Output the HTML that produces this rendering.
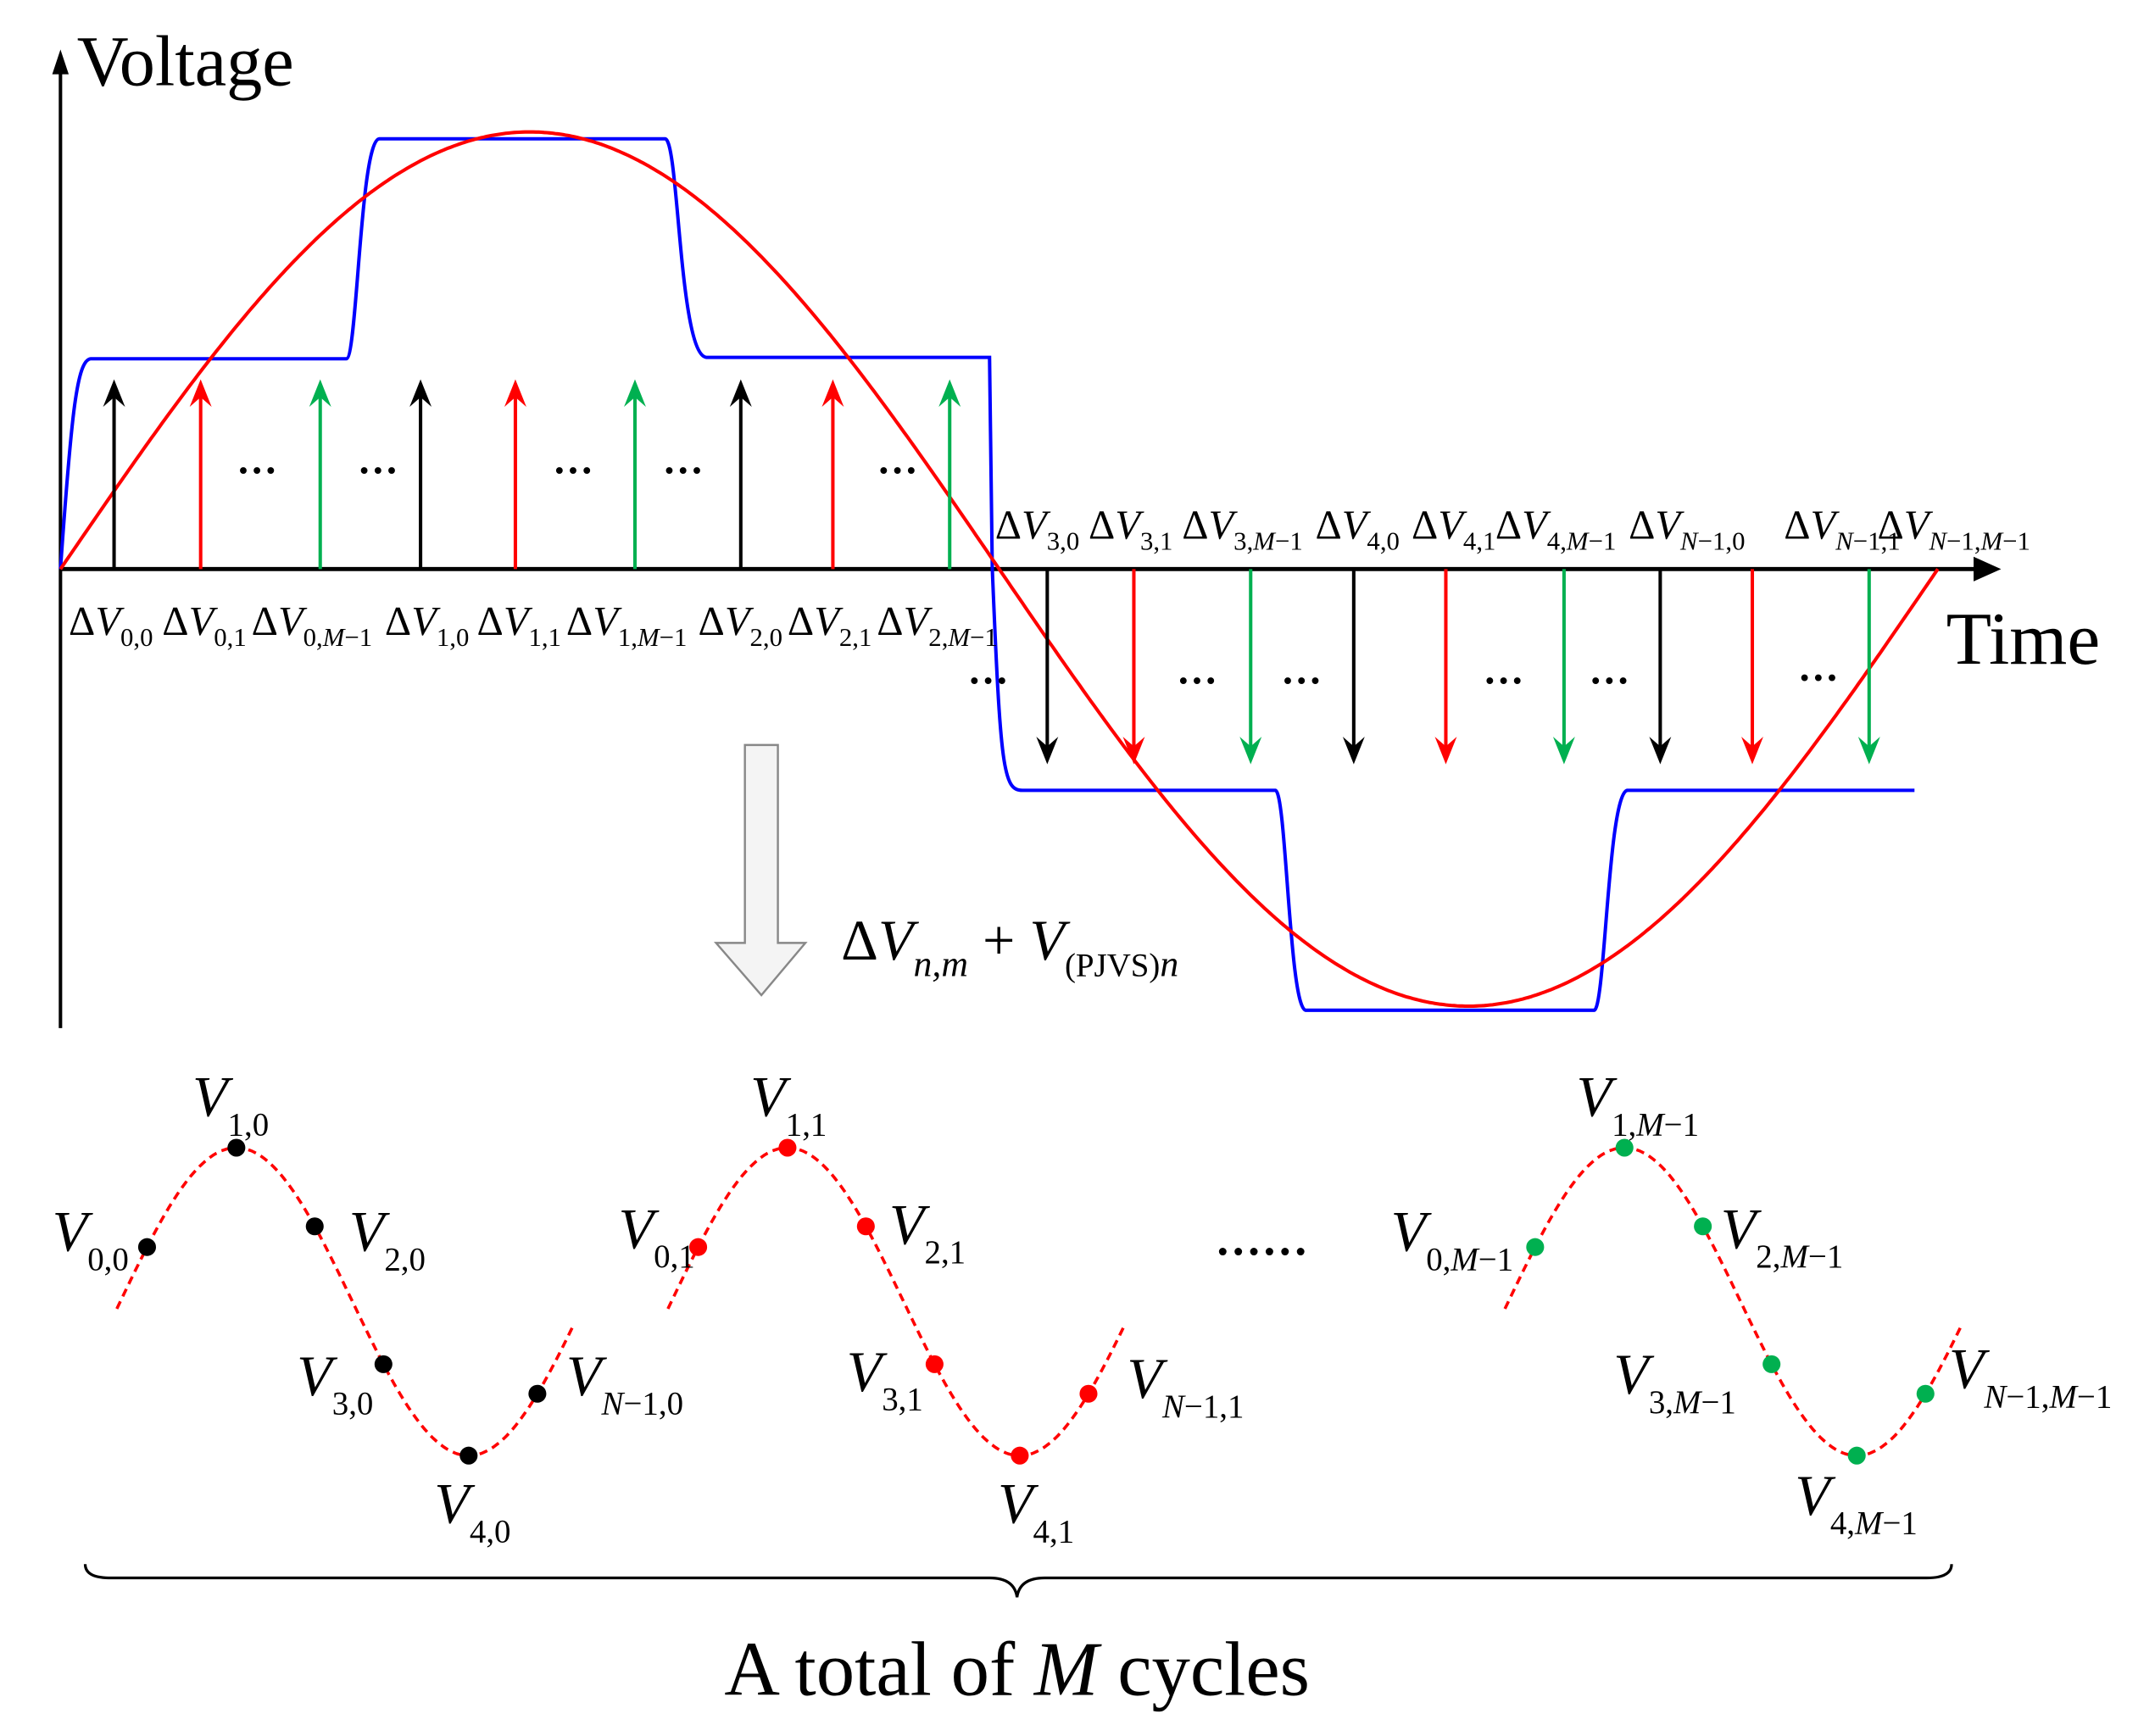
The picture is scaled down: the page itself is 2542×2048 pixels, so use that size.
<!DOCTYPE html>
<html><head><meta charset="utf-8"><style>
html,body{margin:0;padding:0;background:#fff;}
svg{display:block;}
text{font-family:"Liberation Serif",serif;}
.it{font-style:italic;}
</style></head><body>
<svg id="s" width="2542" height="2048" viewBox="0 0 1568 1263" preserveAspectRatio="none" xmlns="http://www.w3.org/2000/svg">
<rect width="1568" height="1263" fill="#fff"/>
<line x1="44" y1="748" x2="44" y2="50" stroke="#000" stroke-width="2.5"/>
<path d="M38,54 L44,36 L50,54 Z" fill="#000"/>
<text x="56" y="62" font-size="52">Voltage</text>
<line x1="44" y1="414" x2="1440" y2="414" stroke="#000" stroke-width="3"/>
<path d="M1436,405 L1456,414 L1436,423 Z" fill="#000"/>
<text x="1416" y="483" font-size="54">Time</text>
<g id="curves"></g>
<g id="arrows"></g>
<g font-size="30" font-weight="bold">
<text x="172" y="352">···</text><text x="260" y="352">···</text><text x="402" y="352">···</text><text x="482" y="352">···</text><text x="638" y="352">···</text>
<text x="704" y="505">···</text><text x="856" y="505">···</text><text x="932" y="505">···</text><text x="1079" y="505">···</text><text x="1156" y="505">···</text><text x="1308" y="503">···</text>
</g>
<g font-size="30" id="lbl"></g>
<path d="M542,542 L566,542 L566,686 L586,686 L554,724 L521,686 L542,686 Z" fill="#f4f4f4" stroke="#888" stroke-width="1.5"/>
<text x="612" y="698" font-size="42">Δ<tspan class="it">V</tspan><tspan class="it" font-size="27" dy="12">n,m</tspan><tspan dy="-12"> + </tspan><tspan class="it">V</tspan><tspan font-size="24" dy="12">(PJVS)</tspan><tspan class="it" font-size="27">n</tspan></text>
<g id="bottom"></g>
<text x="918" y="922" font-size="34" font-weight="bold" text-anchor="middle">······</text>
<path d="M62,1138 Q62,1148 80,1148 L720,1148 Q738,1148 740,1162 Q742,1148 760,1148 L1402,1148 Q1420,1148 1420,1138" fill="none" stroke="#000" stroke-width="2"/>
<text x="740" y="1233" font-size="56" text-anchor="middle">A total of <tspan class="it">M</tspan> cycles</text>
</svg>
<script>
var NS="http://www.w3.org/2000/svg";
function el(p,t,a,txt){var e=document.createElementNS(NS,t);for(var k in a)e.setAttribute(k,a[k]);if(txt!=null)e.textContent=txt;p.appendChild(e);return e;}
var C=document.getElementById('curves');
var d="";for(var x=44;x<=1410;x+=2){var y=414-318*Math.sin(2*Math.PI*(x-44)/1366);d+=(x==44?"M":"L")+x+","+y.toFixed(1);}
var b="M44,414 C52,300 56,262 66,261 L252,261 C260,261 262,102 276,101 L484,101 C494,102 494,258 514,260 L720,260 L722,414 C728,560 730,575 744,575 L928,575 C936,576 938,733 950,735 L1160,735 C1168,733 1170,578 1184,575 L1393,575";
el(C,'path',{d:b,fill:'none',stroke:'#0000ff','stroke-width':2.5});
el(C,'path',{d:d,fill:'none',stroke:'#ff0000','stroke-width':2.5});
var A=document.getElementById('arrows');
function arr(x,y1,y2,c){el(A,'line',{x1:x,y1:y1,x2:x,y2:y2+(y2<y1?10:-10),stroke:c,'stroke-width':2.5});
 var s=y2<y1?1:-1;el(A,'path',{d:"M"+(x-8)+","+(y2+s*20)+" L"+x+","+y2+" L"+(x+8)+","+(y2+s*20)+" L"+x+","+(y2+s*13)+" Z",fill:c});}
var K='#000',R='#ff0000',G='#00b050';
[[83,K],[146,R],[233,G],[306,K],[375,R],[462,G],[539,K],[606,R],[691,G]].forEach(function(a){arr(a[0],414,276,a[1]);});
[[762,K],[825,R],[910,G],[985,K],[1052,R],[1138,G],[1208,K],[1275,R],[1360,G]].forEach(function(a){arr(a[0],414,556,a[1]);});
var L=document.getElementById('lbl');
function subs(t,sub,fs,dy){var tt=el(t,'tspan',{'font-size':fs,dy:dy},'');
 sub.replace(/./g,function(ch){el(tt,'tspan',/[NM]/.test(ch)?{'class':'it'}:{},ch);});}
function dv(x,y,sub){var t=el(L,'text',{x:x,y:y});t.appendChild(document.createTextNode('Δ'));el(t,'tspan',{'class':'it'},'V');
 subs(t,sub,19,8);}
[[50,'0,0'],[118,'0,1'],[183,'0,M−1'],[280,'1,0'],[347,'1,1'],[412,'1,M−1'],[508,'2,0'],[573,'2,1'],[638,'2,M−1']].forEach(function(a){dv(a[0],462,a[1]);});
[[724,'3,0'],[792,'3,1'],[860,'3,M−1'],[957,'4,0'],[1027,'4,1'],[1088,'4,M−1'],[1185,'N−1,0'],[1298,'N−1,1'],[1366,'N−1,M−1']].forEach(function(a){dv(a[0],392,a[1]);});
var B=document.getElementById('bottom');
function wave(off,col){var x0=87.5+off,P=338,A=112,yc=947;var dd="";
 for(var x=85+off;x<=418+off;x+=2){var y=yc-A*Math.sin(2*Math.PI*(x-x0)/P);dd+=(x==85+off?"M":"L")+x+","+y.toFixed(1);}
 el(B,'path',{d:dd,fill:'none',stroke:'#ff0000','stroke-width':2.2,'stroke-dasharray':'6,4'});
 [107,172,229,279,341,391].forEach(function(xx){var X=xx+off;var y=yc-A*Math.sin(2*Math.PI*(X-x0)/P);el(B,'circle',{cx:X,cy:y,r:6.5,fill:col});});}
wave(0,'#000');wave(401,'#ff0000');wave(1010,'#00b050');
function vl(x,y,sub){var t=el(B,'text',{x:x,y:y,'font-size':42});el(t,'tspan',{'class':'it'},'V');subs(t,sub,24,14);}
var labs=[[140,812,'1,0'],[38,910,'0,0'],[254,910,'2,0'],[216,1015,'3,0'],[412,1015,'N−1,0'],[316,1108,'4,0'],
[546,812,'1,1'],[450,908,'0,1'],[647,905,'2,1'],[616,1012,'3,1'],[820,1017,'N−1,1'],[726,1108,'4,1'],
[1147,812,'1,M−1'],[1012,910,'0,M−1'],[1252,908,'2,M−1'],[1174,1014,'3,M−1'],[1418,1010,'N−1,M−1'],[1306,1102,'4,M−1']];
labs.forEach(function(a){vl(a[0],a[1],a[2]);});
</script>
</body></html>
